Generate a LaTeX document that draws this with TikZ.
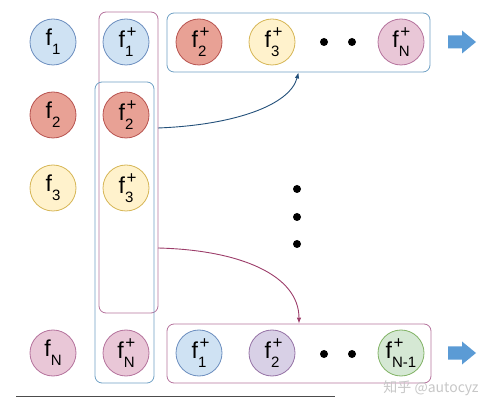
\documentclass[tikz,border=0pt]{standalone}
\usepackage{fontspec}
\setmainfont{Liberation Sans}
\newfontfamily\cjkfont{Noto Sans CJK SC}
\usetikzlibrary{arrows.meta}

\definecolor{blueF}{HTML}{CFE2F3}\definecolor{blueD}{HTML}{6C8EBF}
\definecolor{redF}{HTML}{E8A195}\definecolor{redD}{HTML}{B85450}
\definecolor{yelF}{HTML}{FFF2CC}\definecolor{yelD}{HTML}{D6B656}
\definecolor{pinkF}{HTML}{E9C7D7}\definecolor{pinkD}{HTML}{B5739D}
\definecolor{purF}{HTML}{D8D0E6}\definecolor{purD}{HTML}{9673A6}
\definecolor{grnF}{HTML}{D5E8D4}\definecolor{grnD}{HTML}{82B366}
\definecolor{boxblue}{HTML}{6FA0C4}
\definecolor{arrblue}{HTML}{23507A}
\definecolor{arrpink}{HTML}{9C3D6A}
\definecolor{bigarrow}{HTML}{5B9BD5}

\newcommand{\fsub}[1]{f\raisebox{-0.4em}{\fontsize{15}{15}\selectfont #1}}
\newcommand{\fsup}[1]{f\rlap{\hspace{1.5pt}\raisebox{0.42em}{\fontsize{17}{17}\selectfont +}}\raisebox{-0.4em}{\fontsize{15}{15}\selectfont #1}}

\tikzset{
  feat/.style={circle, minimum size=46pt, inner sep=0pt, line width=0.8pt,
    font=\fontsize{23}{25}\selectfont},
  fblue/.style={feat, draw=blueD, fill=blueF},
  fred/.style={feat, draw=redD, fill=redF},
  fyel/.style={feat, draw=yelD, fill=yelF},
  fpink/.style={feat, draw=pinkD, fill=pinkF},
  fpur/.style={feat, draw=purD, fill=purF},
  fgrn/.style={feat, draw=grnD, fill=grnF},
  group/.style={rectangle, rounded corners=7pt, line width=0.8pt, inner sep=0pt},
  dotmark/.style={circle, fill=black, minimum size=8pt, inner sep=0pt},
  link/.style={line width=0.9pt, -{Latex[length=6pt,width=4.5pt]}},
  blockarrow/.style={fill=bigarrow}
}

\begin{document}
\begin{tikzpicture}[x=1pt,y=-1pt]
		\useasboundingbox (0,0) rectangle (495,411);
		% group boxes
		\node[group, draw=pinkD, minimum width=59pt, minimum height=301pt] (pcol) at (128.5,162.5) {};
		\node[group, draw=boxblue, minimum width=59pt, minimum height=301pt] (bcol) at (124.5,232.5) {};
		\node[group, draw=boxblue, minimum width=263pt, minimum height=59pt] (top) at (298.5,42.5) {};
		\node[group, draw=pinkD, minimum width=264pt, minimum height=59pt] (bot) at (299,353.5) {};
		% first column
		\node[fblue] (c1) at (53,42) {\fsub{1}};
		\node[fred]  (c2) at (53,115) {\fsub{2}};
		\node[fyel]  (c3) at (53,188) {\fsub{3}};
		\node[fpink] (cN) at (53,353) {\fsub{N}};
		% second column
		\node[fblue] (p1) at (126,42) {\fsup{1}};
		\node[fred]  (p2) at (126,115) {\fsup{2}};
		\node[fyel]  (p3) at (126,188) {\fsup{3}};
		\node[fpink] (pN) at (126,353) {\fsup{N}};
		% top row
		\node[fred]  (t2) at (199,42) {\fsup{2}};
		\node[fyel]  (t3) at (272,42) {\fsup{3}};
		\node[fpink] (tN) at (401,42) {\fsup{N}};
		\node[dotmark] (td1) at (324,42) {};
		\node[dotmark] (td2) at (352,42) {};
		% bottom row
		\node[fblue] (b1) at (199,353) {\fsup{1}};
		\node[fpur]  (b2) at (272,353) {\fsup{2}};
		\node[fgrn]  (bN) at (401,353) {\fsup{N-1}};
		\node[dotmark] (bd1) at (324,354) {};
		\node[dotmark] (bd2) at (352,354) {};
		% vertical dots
		\node[dotmark] (vd1) at (297,189) {};
		\node[dotmark] (vd2) at (297,217) {};
		\node[dotmark] (vd3) at (297,244) {};
		% connectors
		\coordinate (s1) at (158,128);
		\coordinate (s2) at (158,248);
		\draw[link, arrblue] (s1) .. controls (235,125) and (290,105) .. (top.south);
		\draw[link, arrpink] (s2) .. controls (240,250) and (299,275) .. (bot.north);
		% output arrows
		\foreach \y in {42,353}
			\fill[blockarrow, shift={(448,\y)}] (0,-6.5) -- (14,-6.5) -- (14,-11.5) -- (28,0) -- (14,11.5) -- (14,6.5) -- (0,6.5) -- cycle;
		% rule and watermark
		\coordinate (l1) at (16,396);
		\coordinate (l2) at (335,396);
		\draw[line width=0.8pt, black!70] (l1) -- (l2);
		\node[text=black!22, font=\cjkfont\fontsize{14}{14}\selectfont] (wm) at (431,388) {知乎 @autocyz};
		\end{tikzpicture}
\end{document}
